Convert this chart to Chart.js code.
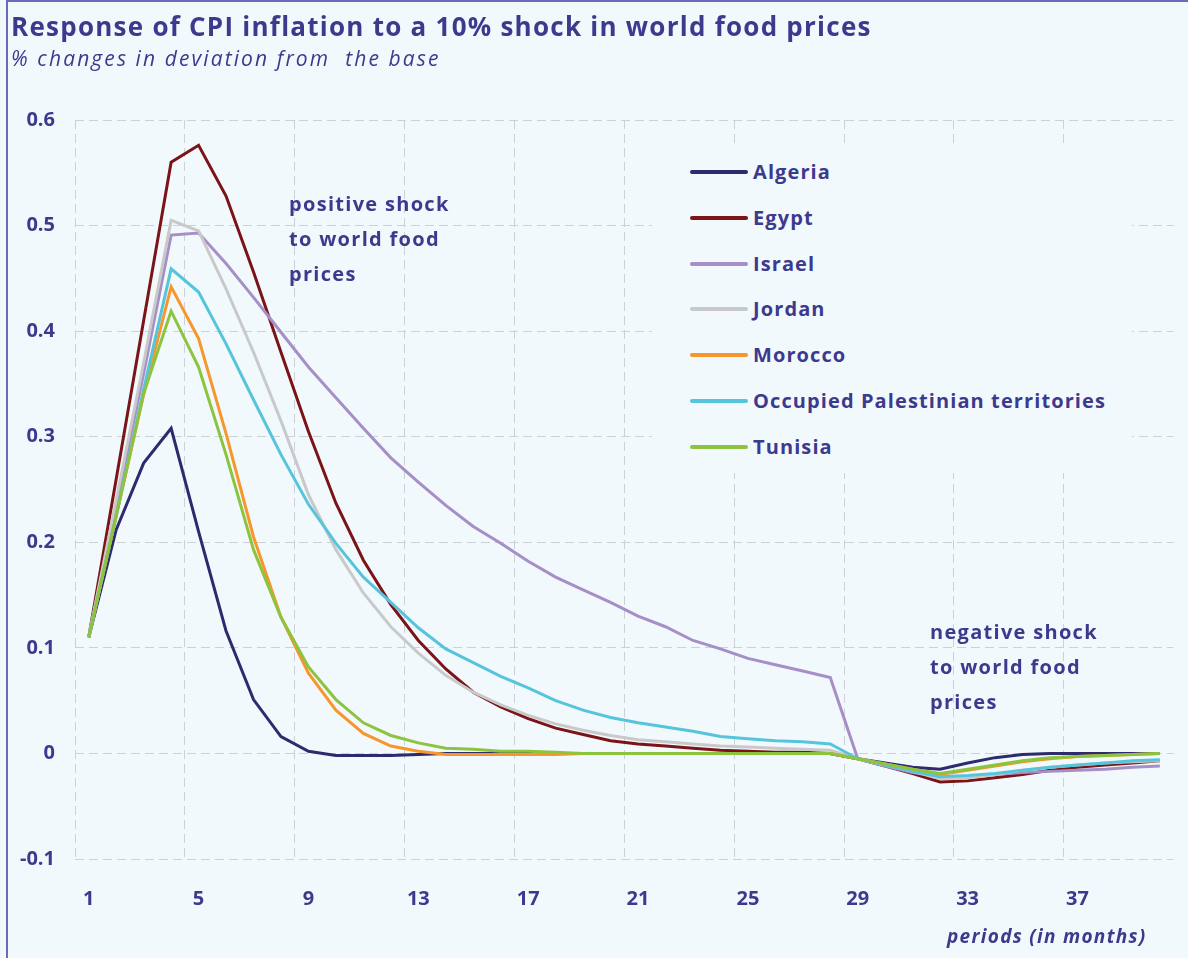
<!DOCTYPE html>
<html>
<head>
<meta charset="utf-8">
<script src="https://cdn.jsdelivr.net/npm/chart.js@4.4.1/dist/chart.umd.min.js"></script>
<style>
  html, body { margin: 0; padding: 0; background: #f2f9fd; }
  body { width: 1188px; height: 958px; position: relative; overflow: hidden; font-family: "Open Sans", sans-serif; color: #3d3a8e; }
  .frame { position: absolute; left: 6px; top: 0; width: 1200px; height: 1000px; border-left: 2px solid #6a6ab8; border-top: 2px solid #6a6ab8; }
  #myChart { position: absolute; left: 0; top: 0; }
  .title { position: absolute; left: 11px; top: 8px; font-size: 26px; font-weight: 700; letter-spacing: 1.25px; white-space: nowrap; }
  .subtitle { position: absolute; left: 11px; top: 44px; font-size: 21px; font-style: italic; letter-spacing: 2.1px; white-space: nowrap; }
  .note { position: absolute; font-size: 20px; font-weight: 700; line-height: 35px; letter-spacing: 1.3px; }
  .xtitle { position: absolute; left: 947px; top: 923px; font-size: 19px; font-weight: 700; font-style: italic; letter-spacing: 1.3px; white-space: nowrap; }
  .legend { position: absolute; left: 652px; top: 148px; width: 480px; height: 325px; background: #f2f9fd; }
  .item { position: absolute; left: 38px; height: 30px; font-size: 20px; font-weight: 700; letter-spacing: 1.1px; white-space: nowrap; }
  .item span.swatch { position: absolute; left: 0; top: 13px; width: 58px; height: 4px; border-radius: 2px; }
  .item span.label { position: absolute; left: 63px; top: 0; line-height: 30px; }
</style>
</head>
<body>
<div class="frame"></div>
<canvas id="myChart" width="1188" height="958"></canvas>
<div class="title">Response of CPI inflation to a 10% shock in world food prices</div>
<div class="subtitle">% changes in deviation from&nbsp; the base</div>
<div class="note" style="left:289px; top:186px;">positive shock<br>to world food<br>prices</div>
<div class="note" style="left:930px; top:614px;">negative shock<br>to world food<br>prices</div>
<div class="xtitle">periods (in months)</div>
<div class="legend" id="legend"></div>
<script>
// periods (months)
var periods = [1, 2, 3, 4, 5, 6, 7, 8, 9, 10, 11, 12, 13, 14, 15, 16, 17, 18, 19, 20,
    21, 22, 23, 24, 25, 26, 27, 28, 29, 30, 31, 32, 33, 34, 35, 36, 37, 38, 39, 40];

var countries = ["Algeria", "Egypt", "Israel", "Jordan", "Morocco", "Occupied Palestinian territories", "Tunisia"];
var colors = ["#2e2a6e", "#7a1417", "#a68fc6", "#c9c9c9", "#f7962b", "#56c5dc", "#8cc43f"];

var Algeria = [0.11, 0.212, 0.275, 0.308, 0.21, 0.116, 0.051, 0.016, 0.002, -0.002,
    -0.002, -0.002, -0.001, 0, 0, 0, 0, 0, 0, 0,
    0, 0, 0, 0, 0, 0, 0, 0, -0.005, -0.009,
    -0.013, -0.015, -0.009, -0.004, -0.001, 0, 0, 0, 0, 0];
var Egypt = [0.11, 0.26, 0.41, 0.56, 0.576, 0.528, 0.456, 0.38, 0.305, 0.237,
    0.183, 0.141, 0.107, 0.08, 0.058, 0.044, 0.033, 0.024, 0.018, 0.012,
    0.009, 0.007, 0.005, 0.003, 0.002, 0.001, 0.001, 0.0, -0.005, -0.012,
    -0.019, -0.027, -0.026, -0.023, -0.02, -0.016, -0.013, -0.011, -0.009, -0.007];
var Israel = [0.11, 0.235, 0.36, 0.491, 0.493, 0.464, 0.432, 0.399, 0.366, 0.337,
    0.308, 0.28, 0.257, 0.235, 0.215, 0.199, 0.182, 0.167, 0.155, 0.143,
    0.13, 0.12, 0.107, 0.099, 0.09, 0.084, 0.078, 0.072, -0.005, -0.012,
    -0.018, -0.022, -0.022, -0.02, -0.018, -0.017, -0.016, -0.015, -0.013, -0.012];
var Jordan = [0.11, 0.24, 0.37, 0.505, 0.495, 0.44, 0.38, 0.315, 0.245, 0.193,
    0.152, 0.12, 0.095, 0.074, 0.058, 0.046, 0.036, 0.028, 0.022, 0.017,
    0.013, 0.011, 0.009, 0.007, 0.006, 0.005, 0.004, 0.003, -0.005, -0.011,
    -0.017, -0.024, -0.023, -0.02, -0.016, -0.013, -0.011, -0.009, -0.008, -0.007];
var Morocco = [0.11, 0.225, 0.34, 0.442, 0.393, 0.303, 0.205, 0.129, 0.076, 0.041,
    0.019, 0.007, 0.002, -0.001, -0.001, -0.001, -0.001, -0.001, 0, 0,
    0, 0, 0, 0, 0, 0, 0, 0, -0.005, -0.01,
    -0.015, -0.02, -0.016, -0.012, -0.008, -0.005, -0.003, -0.002, -0.001, 0];
var OPT = [0.11, 0.225, 0.345, 0.459, 0.437, 0.388, 0.335, 0.283, 0.236, 0.199,
    0.167, 0.143, 0.119, 0.099, 0.086, 0.073, 0.062, 0.05, 0.041, 0.034,
    0.029, 0.025, 0.021, 0.016, 0.014, 0.012, 0.011, 0.009, -0.005, -0.011,
    -0.017, -0.022, -0.021, -0.019, -0.016, -0.013, -0.011, -0.009, -0.007, -0.006];
var Tunisia = [0.11, 0.225, 0.341, 0.419, 0.366, 0.283, 0.193, 0.129, 0.082, 0.051,
    0.029, 0.017, 0.01, 0.005, 0.004, 0.002, 0.002, 0.001, 0, 0,
    0, 0, 0, 0, 0, 0, 0, 0, -0.005, -0.01,
    -0.015, -0.019, -0.015, -0.011, -0.007, -0.004, -0.003, -0.002, -0.001, 0];

var series = [Algeria, Egypt, Israel, Jordan, Morocco, OPT, Tunisia];

var textColor = '#3d3a8e';
var gridColor = '#cdd1d6';
var font = "'Open Sans', sans-serif";

// legend, drawn over the grid like in the source
var legend = document.getElementById('legend');
countries.forEach(function (name, i) {
    var item = document.createElement('div');
    item.className = 'item';
    item.style.top = (9 + i * 45.8) + 'px';
    item.innerHTML = '<span class="swatch" style="background:' + colors[i] + '"></span><span class="label">' + name + '</span>';
    legend.appendChild(item);
});

var datasets = series.map(function (data, i) {
    return {
        label: countries[i],
        data: data,
        borderColor: colors[i],
        backgroundColor: colors[i],
        borderWidth: 3,
        pointRadius: 0,
        tension: 0,
        fill: false,
        order: series.length - i
    };
});

const ctx = document.getElementById('myChart');
var myChart = new Chart(ctx, {
    type: 'line',
    data: {
        labels: periods,
        datasets: datasets
    },
    options: {
        responsive: false,
        animation: false,
        layout: {
            padding: { top: 120, right: 11, left: 0, bottom: 0 }
        },
        plugins: {
            legend: { display: false },
            tooltip: { enabled: false }
        },
        scales: {
            x: {
                type: 'category',
                offset: true,
                afterFit: function (scale) { scale.height = 99; },
                grid: {
                    offset: true,
                    drawTicks: false,
                    color: function (c) { return c.index % 4 === 0 ? gridColor : 'transparent'; },
                    lineWidth: 1
                },
                border: { display: false, dash: [9, 5] },
                ticks: {
                    autoSkip: false,
                    maxRotation: 0,
                    padding: 28,
                    color: textColor,
                    font: { family: font, size: 20, weight: 'bold' },
                    callback: function (val, i) { return i % 4 === 0 ? String(periods[i]) : ''; }
                }
            },
            y: {
                min: -0.1,
                max: 0.6,
                afterFit: function (scale) { scale.width = 75; },
                grid: {
                    drawTicks: false,
                    color: gridColor,
                    lineWidth: 1
                },
                border: { display: false, dash: [9, 5] },
                ticks: {
                    stepSize: 0.1,
                    padding: 20,
                    color: textColor,
                    font: { family: font, size: 20, weight: 'bold' },
                    callback: function (v) { return Math.abs(v) < 1e-9 ? '0' : v.toFixed(1); }
                }
            }
        }
    }
});
</script>
</body>
</html>
